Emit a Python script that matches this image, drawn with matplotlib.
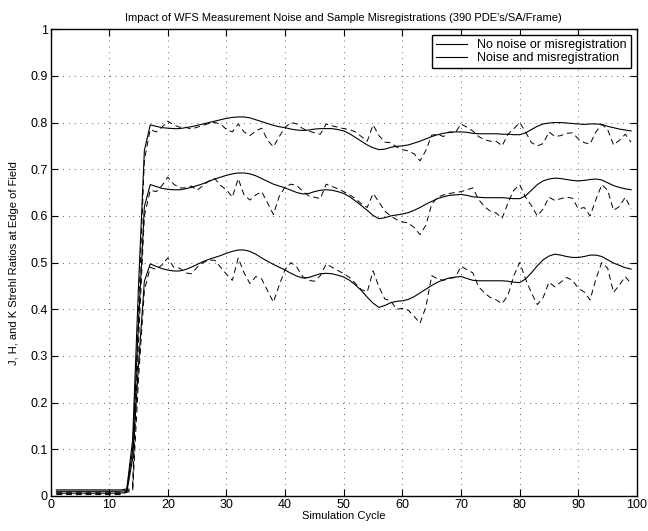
import numpy as np
import matplotlib
matplotlib.use('Agg')
import matplotlib.pyplot as plt

plt.rcParams['font.family'] = ['Liberation Sans', 'DejaVu Sans']

# simulation cycles
cycles = np.arange(1, 100)

# solid: no noise or misregistration (K, H, J)
k_clean = [0.013, 0.013, 0.013, 0.013, 0.013, 0.013, 0.013, 0.013, 0.013, 0.013,
           0.013, 0.013, 0.015, 0.12, 0.45, 0.74, 0.795, 0.792, 0.789, 0.788,
           0.787, 0.787, 0.789, 0.791, 0.794, 0.797, 0.80, 0.803, 0.806, 0.809,
           0.811, 0.812, 0.812, 0.81, 0.806, 0.802, 0.798, 0.794, 0.791, 0.789,
           0.786, 0.784, 0.783, 0.784, 0.786, 0.787, 0.787, 0.787, 0.785, 0.782,
           0.776, 0.768, 0.76, 0.752, 0.746, 0.742, 0.743, 0.747, 0.749, 0.75,
           0.752, 0.756, 0.76, 0.765, 0.77, 0.774, 0.777, 0.779, 0.78, 0.78,
           0.779, 0.777, 0.776, 0.776, 0.776, 0.776, 0.775, 0.775, 0.774, 0.774,
           0.778, 0.785, 0.792, 0.797, 0.799, 0.80, 0.80, 0.799, 0.798, 0.797,
           0.796, 0.797, 0.797, 0.796, 0.792, 0.789, 0.786, 0.784, 0.782]
h_clean = [0.010, 0.010, 0.010, 0.010, 0.010, 0.010, 0.010, 0.010, 0.010, 0.010,
           0.010, 0.010, 0.012, 0.10, 0.37, 0.62, 0.667, 0.663, 0.659, 0.657,
           0.656, 0.656, 0.658, 0.661, 0.665, 0.669, 0.674, 0.679, 0.683, 0.687,
           0.69, 0.692, 0.692, 0.69, 0.686, 0.68, 0.674, 0.668, 0.664, 0.66,
           0.655, 0.65, 0.647, 0.648, 0.652, 0.655, 0.656, 0.655, 0.652, 0.648,
           0.641, 0.632, 0.622, 0.612, 0.601, 0.594, 0.596, 0.60, 0.602, 0.604,
           0.607, 0.612, 0.618, 0.625, 0.631, 0.637, 0.641, 0.644, 0.645, 0.646,
           0.644, 0.641, 0.64, 0.639, 0.639, 0.639, 0.639, 0.638, 0.637, 0.637,
           0.643, 0.655, 0.667, 0.675, 0.679, 0.681, 0.68, 0.678, 0.676, 0.675,
           0.676, 0.678, 0.679, 0.677, 0.671, 0.665, 0.661, 0.658, 0.656]
j_clean = [0.006, 0.006, 0.006, 0.006, 0.006, 0.006, 0.006, 0.006, 0.006, 0.006,
           0.006, 0.006, 0.008, 0.08, 0.28, 0.46, 0.497, 0.492, 0.487, 0.484,
           0.482, 0.482, 0.485, 0.49, 0.496, 0.502, 0.507, 0.511, 0.515, 0.52,
           0.524, 0.527, 0.527, 0.524, 0.518, 0.51, 0.503, 0.496, 0.49, 0.484,
           0.477, 0.471, 0.467, 0.468, 0.472, 0.476, 0.477, 0.476, 0.473, 0.469,
           0.462, 0.452, 0.44, 0.426, 0.413, 0.404, 0.408, 0.414, 0.417, 0.418,
           0.421, 0.427, 0.435, 0.443, 0.451, 0.458, 0.463, 0.467, 0.469, 0.47,
           0.466, 0.462, 0.461, 0.461, 0.461, 0.461, 0.461, 0.46, 0.458, 0.457,
           0.465, 0.478, 0.493, 0.506, 0.514, 0.518, 0.516, 0.513, 0.511, 0.511,
           0.513, 0.516, 0.516, 0.513, 0.506, 0.499, 0.494, 0.489, 0.486]

# dashed: noise and misregistration (K, H, J)
k_noisy = [0.008, 0.008, 0.008, 0.008, 0.008, 0.008, 0.008, 0.008, 0.008, 0.008,
           0.008, 0.008, 0.012, 0.02, 0.40, 0.72, 0.785, 0.78, 0.79, 0.803,
           0.795, 0.79, 0.79, 0.786, 0.79, 0.794, 0.798, 0.80, 0.797, 0.785,
           0.78, 0.797, 0.78, 0.772, 0.782, 0.788, 0.762, 0.748, 0.77, 0.79,
           0.80, 0.797, 0.787, 0.782, 0.778, 0.775, 0.797, 0.793, 0.79, 0.787,
           0.785, 0.78, 0.77, 0.76, 0.795, 0.772, 0.758, 0.757, 0.748, 0.742,
           0.739, 0.733, 0.718, 0.74, 0.773, 0.775, 0.77, 0.78, 0.778, 0.797,
           0.79, 0.782, 0.77, 0.763, 0.76, 0.76, 0.75, 0.775, 0.787, 0.80,
           0.78, 0.757, 0.75, 0.755, 0.78, 0.77, 0.772, 0.777, 0.778, 0.765,
           0.757, 0.754, 0.78, 0.796, 0.785, 0.752, 0.762, 0.775, 0.758]
h_noisy = [0.005, 0.005, 0.005, 0.005, 0.005, 0.005, 0.005, 0.005, 0.005, 0.005,
           0.005, 0.005, 0.010, 0.015, 0.33, 0.60, 0.655, 0.652, 0.665, 0.683,
           0.668, 0.66, 0.66, 0.664, 0.655, 0.665, 0.675, 0.68, 0.665, 0.656,
           0.64, 0.68, 0.645, 0.634, 0.645, 0.652, 0.628, 0.603, 0.642, 0.662,
           0.668, 0.665, 0.653, 0.643, 0.64, 0.637, 0.668, 0.663, 0.658, 0.652,
           0.645, 0.637, 0.626, 0.618, 0.648, 0.63, 0.61, 0.60, 0.592, 0.587,
           0.585, 0.575, 0.56, 0.58, 0.625, 0.64, 0.645, 0.648, 0.65, 0.652,
           0.656, 0.66, 0.635, 0.62, 0.61, 0.606, 0.595, 0.628, 0.655, 0.667,
           0.64, 0.622, 0.60, 0.615, 0.64, 0.633, 0.637, 0.64, 0.638, 0.615,
           0.618, 0.60, 0.635, 0.667, 0.655, 0.612, 0.62, 0.64, 0.615]
j_noisy = [0.003, 0.003, 0.003, 0.003, 0.003, 0.003, 0.003, 0.003, 0.003, 0.003,
           0.003, 0.003, 0.008, 0.01, 0.25, 0.44, 0.49, 0.485, 0.495, 0.51,
           0.49, 0.488, 0.478, 0.476, 0.49, 0.50, 0.505, 0.505, 0.49, 0.475,
           0.462, 0.51, 0.478, 0.455, 0.47, 0.465, 0.44, 0.415, 0.452, 0.485,
           0.50, 0.49, 0.47, 0.462, 0.46, 0.472, 0.497, 0.49, 0.483, 0.476,
           0.468, 0.455, 0.442, 0.437, 0.482, 0.448, 0.422, 0.418, 0.40, 0.402,
           0.398, 0.385, 0.37, 0.405, 0.472, 0.465, 0.462, 0.466, 0.468, 0.492,
           0.485, 0.478, 0.448, 0.435, 0.425, 0.42, 0.412, 0.43, 0.472, 0.50,
           0.465, 0.435, 0.41, 0.425, 0.458, 0.448, 0.458, 0.468, 0.462, 0.445,
           0.437, 0.42, 0.465, 0.50, 0.488, 0.436, 0.452, 0.47, 0.455]

fig = plt.figure(figsize=(6.48, 5.31), dpi=100)
ax = fig.add_axes([0.078, 0.066, 0.905, 0.879])

solid = []
for vals in (k_clean, h_clean, j_clean):
    ln, = ax.plot(cycles, vals, '-', color='k', lw=0.8)
    solid.append(ln)
for vals in (k_noisy, h_noisy, j_noisy):
    ax.plot(cycles, vals, '--', color='k', lw=0.7, dashes=(6, 4))

ax.set_xlim(0, 100)
ax.set_ylim(0, 1)
ax.set_xticks(np.arange(0, 101, 10))
ax.set_yticks(np.arange(0, 1.01, 0.1))
ax.set_yticklabels(['0', '0.1', '0.2', '0.3', '0.4', '0.5', '0.6', '0.7', '0.8', '0.9', '1'])
ax.grid(True, linestyle=(0, (1, 6)), color='k', lw=0.6, alpha=0.8)
ax.tick_params(direction='in', top=True, right=True, length=5, labelsize=9, pad=2)
for sp in ax.spines.values():
    sp.set_linewidth(1.0)

ax.set_title("Impact of WFS Measurement Noise and Sample Misregistrations (390 PDE's/SA/Frame)",
             fontsize=8, pad=6)
ax.set_xlabel('Simulation Cycle', fontsize=8, labelpad=0)
ax.set_ylabel('J, H, and K Strehl Ratios at Edge of Field', fontsize=8, labelpad=8)

leg = ax.legend(solid[:2], ['No noise or misregistration', 'Noise and misregistration'],
                loc='upper right', fontsize=9, fancybox=False, framealpha=1,
                edgecolor='k', borderaxespad=0.5, handlelength=2.5,
                borderpad=0.3, labelspacing=0.1)
leg.get_frame().set_linewidth(1.0)

fig.savefig('out.png', dpi=100)
